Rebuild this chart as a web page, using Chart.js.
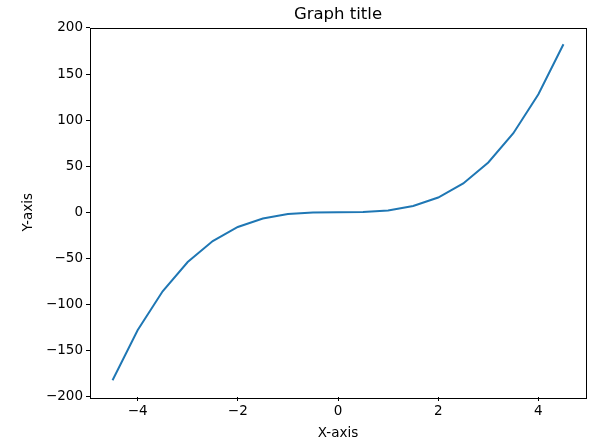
<!DOCTYPE html>
<html>
<head>
<meta charset="utf-8">
<script src="https://cdn.jsdelivr.net/npm/chart.js@4"></script>
<style>
  html, body { margin: 0; padding: 0; background: #fff; }
  #wrap { width: 595px; height: 442px; }
</style>
</head>
<body>
<div id="wrap"><canvas id="chart" width="595" height="442"></canvas></div>
<script>
const xValues = [-4.5, -4, -3.5, -3, -2.5, -2, -1.5, -1, -0.5, 0, 0.5, 1, 1.5, 2, 2.5, 3, 3.5, 4, 4.5];
const yValues = [-182.25, -128, -85.75, -54, -31.25, -16, -6.75, -2, -0.25, 0, 0.25, 2, 6.75, 16, 31.25, 54, 85.75, 128, 182.25];
const xTicks = [-4, -2, 0, 2, 4];
const yTicks = [-200, -150, -100, -50, 0, 50, 100, 150, 200];
const chartTitle = 'Graph title';

const font = 'DejaVu Sans';
const minus = v => String(v).replace('-', '\u2212');

// matplotlib style box around the plot area, title centred over it
const boxPlugin = {
    id: 'box',
    afterDraw(chart) {
        const a = chart.chartArea;
        const c = chart.ctx;
        c.save();
        c.strokeStyle = '#000';
        c.lineWidth = 1;
        c.strokeRect(Math.round(a.left) + 0.5, Math.round(a.top) + 0.5,
            Math.round(a.right - a.left), Math.round(a.bottom - a.top));
        c.fillStyle = '#000';
        c.font = '16.5px "' + font + '"';
        c.textAlign = 'center';
        c.textBaseline = 'middle';
        c.fillText(chartTitle, (a.left + a.right) / 2, 15);
        c.restore();
    }
};

const ctx = document.getElementById('chart').getContext('2d');
new Chart(ctx, {
    type: 'line',
    data: {
        datasets: [{
            data: xValues.map((x, i) => ({ x: x, y: yValues[i] })),
            borderColor: '#1f77b4',
            borderWidth: 2,
            pointRadius: 0,
            tension: 0,
            fill: false
        }]
    },
    options: {
        responsive: false,
        animation: false,
        layout: { padding: { left: 20, right: 9, top: 27.5, bottom: 0 } },
        plugins: {
            legend: { display: false },
            tooltip: { enabled: false },
            title: { display: false }
        },
        scales: {
            x: {
                type: 'linear',
                min: -4.95,
                max: 4.95,
                afterBuildTicks: s => { s.ticks = xTicks.map(v => ({ value: v })); },
                afterFit: s => { s.height = 45; },
                grid: { display: true, drawOnChartArea: false, drawTicks: true, tickLength: 4, color: '#000' },
                border: { display: false },
                ticks: {
                    color: '#000',
                    font: { family: font, size: 13.5 },
                    padding: 2,
                    maxRotation: 0,
                    callback: v => minus(v)
                },
                title: {
                    display: true,
                    text: 'X-axis',
                    color: '#000',
                    font: { family: font, size: 13.5 },
                    padding: { top: 0, bottom: 0 }
                }
            },
            y: {
                type: 'linear',
                min: -200.5,
                max: 200.5,
                afterBuildTicks: s => { s.ticks = yTicks.map(v => ({ value: v })); },
                afterFit: s => { s.width = 70; },
                grid: { display: true, drawOnChartArea: false, drawTicks: true, tickLength: 4, color: '#000' },
                border: { display: false },
                ticks: {
                    color: '#000',
                    font: { family: font, size: 13.5 },
                    padding: 3,
                    callback: v => minus(v)
                },
                title: {
                    display: true,
                    text: 'Y-axis',
                    color: '#000',
                    font: { family: font, size: 13.5 },
                    padding: { top: 0, bottom: 0 }
                }
            }
        }
    },
    plugins: [boxPlugin]
});
</script>
</body>
</html>
